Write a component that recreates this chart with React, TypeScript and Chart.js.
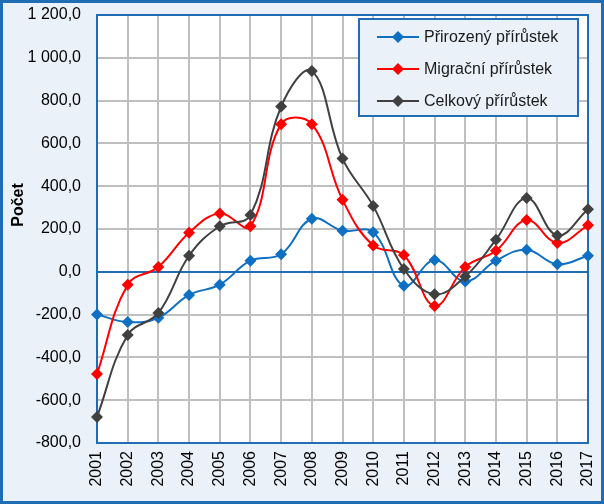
import React, { useEffect, useRef } from "react";
import { Chart, registerables } from "chart.js";

Chart.register(...registerables);

const years = ["2001","2002","2003","2004","2005","2006","2007","2008","2009","2010","2011","2012","2013","2014","2015","2016","2017"];
const natural = [-200, -235, -215, -108, -60, 52, 82, 248, 192, 185, -65, 55, -45, 52, 103, 35, 75];
const migration = [-478, -60, 23, 183, 273, 213, 690, 690, 337, 123, 78, -160, 23, 98, 242, 135, 217];
const total = [-678, -295, -192, 75, 213, 265, 772, 938, 529, 308, 13, -105, -22, 150, 345, 170, 292];
const seriesNames = ["Přirozený přírůstek", "Migrační přírůstek", "Celkový přírůstek"];
const seriesColors = ["#0F70C3", "#FF0000", "#404040"];
const yMin = -800;
const yMax = 1200;
const yStep = 200;
const yTitle = "Počet";

const FONT = "'Liberation Sans', Arial, sans-serif";
const PAGE_BG = "#EBF1F9";
const FRAME = "#1F6DB5";
const GRID = "#BFBFBF";

function fmt(v: number): string {
  const neg = v < 0;
  const s = Math.abs(v).toFixed(1).replace(".", ",");
  const [ip, dp] = s.split(",");
  const withSep = ip.replace(/\B(?=(\d{3})+(?!\d))/g, " ");
  return (neg ? "-" : "") + withSep + "," + dp;
}

const framePlugin = {
  id: "framePlugin",
  beforeDraw(chart: any) {
    const { ctx, width, height, chartArea } = chart;
    ctx.save();
    ctx.fillStyle = PAGE_BG;
    ctx.fillRect(0, 0, width, height);
    ctx.strokeStyle = FRAME;
    ctx.lineWidth = 3;
    ctx.strokeRect(1.5, 1.5, width - 3, height - 3);
    ctx.fillStyle = "#FFFFFF";
    ctx.fillRect(chartArea.left, chartArea.top, chartArea.right - chartArea.left, chartArea.bottom - chartArea.top);
    ctx.restore();
  },
  beforeDatasetsDraw(chart: any) {
    const { ctx, chartArea, scales } = chart;
    ctx.save();
    const y0 = Math.round(scales.y.getPixelForValue(0));
    ctx.strokeStyle = FRAME;
    ctx.lineWidth = 2;
    ctx.beginPath();
    ctx.moveTo(chartArea.left, y0);
    ctx.lineTo(chartArea.right, y0);
    ctx.stroke();
    ctx.strokeRect(chartArea.left, chartArea.top, chartArea.right - chartArea.left, chartArea.bottom - chartArea.top);
    // y axis title
    ctx.translate(19, 205);
    ctx.rotate(-Math.PI / 2);
    ctx.fillStyle = "#000000";
    ctx.font = "bold 16px " + FONT;
    ctx.textAlign = "center";
    ctx.textBaseline = "middle";
    ctx.fillText(yTitle, 0, 0);
    ctx.restore();
  },
  afterDraw(chart: any) {
    const { ctx } = chart;
    ctx.save();
    const bx = 358, by = 18, bw = 221, bh = 99;
    ctx.fillStyle = PAGE_BG;
    ctx.fillRect(bx, by, bw, bh);
    ctx.strokeStyle = FRAME;
    ctx.lineWidth = 2;
    ctx.strokeRect(bx + 1, by + 1, bw - 2, bh - 2);
    chart.data.datasets.forEach((ds: any, i: number) => {
      const yy = 37 + i * 32;
      ctx.strokeStyle = ds.borderColor;
      ctx.lineWidth = 2;
      ctx.beginPath();
      ctx.moveTo(377, yy);
      ctx.lineTo(419, yy);
      ctx.stroke();
      ctx.fillStyle = ds.borderColor;
      const r = 6;
      ctx.beginPath();
      ctx.moveTo(398, yy - r);
      ctx.lineTo(398 + r, yy);
      ctx.lineTo(398, yy + r);
      ctx.lineTo(398 - r, yy);
      ctx.closePath();
      ctx.fill();
      ctx.fillStyle = "#1A1A1A";
      ctx.font = "16px " + FONT;
      ctx.textAlign = "left";
      ctx.textBaseline = "middle";
      ctx.fillText(ds.label, 424, yy + 1);
    });
    ctx.restore();
  },
};

export default function App() {
  const ref = useRef<HTMLCanvasElement | null>(null);
  useEffect(() => {
    document.body.style.margin = "0";
    const canvas = ref.current!;
    const seriesData = [natural, migration, total];
    const chart = new Chart(canvas, {
      type: "line",
      data: {
        labels: years,
        datasets: seriesData.map((d, i) => ({
          label: seriesNames[i],
          data: d,
          borderColor: seriesColors[i],
          backgroundColor: seriesColors[i],
          borderWidth: 2,
          pointStyle: "rectRot",
          pointRadius: 6,
          pointBorderWidth: 0,
          tension: 0.4,
          order: 3 - i,
          fill: false,
        })),
      },
      options: {
        animation: false,
        responsive: false,
        devicePixelRatio: 1,
        layout: { autoPadding: false, padding: { top: 15, right: 16, left: 0, bottom: 0 } },
        plugins: { legend: { display: false }, tooltip: { enabled: false } },
        scales: {
          x: {
            offset: false,
            grid: { color: GRID, lineWidth: 2, drawTicks: false },
            border: { display: false },
            ticks: {
              minRotation: 90,
              maxRotation: 90,
              autoSkip: false,
              padding: 8,
              color: "#000000",
              font: { family: FONT, size: 16 },
            },
            afterFit: (s: any) => {
              s.height = 504 - 443;
              s.paddingLeft = 0;
              s.paddingRight = 0;
            },
          },
          y: {
            min: yMin,
            max: yMax,
            grid: { color: GRID, lineWidth: 2, drawTicks: false },
            border: { display: false },
            ticks: {
              stepSize: yStep,
              padding: 16,
              color: "#000000",
              font: { family: FONT, size: 16 },
              callback: (v: any) => fmt(Number(v)),
            },
            afterFit: (s: any) => {
              s.width = 97;
              s.paddingTop = 0;
              s.paddingBottom = 0;
            },
          },
        },
      },
      plugins: [framePlugin],
    });
    return () => chart.destroy();
  }, []);
  return (
    <div style={{ position: "absolute", left: 0, top: 0, width: 604, height: 504 }}>
      <canvas ref={ref} width={604} height={504} style={{ width: 604, height: 504, display: "block" }} />
    </div>
  );
}
